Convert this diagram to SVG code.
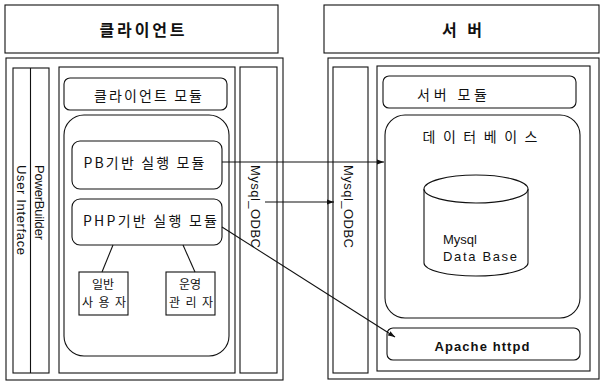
<svg xmlns="http://www.w3.org/2000/svg" width="601" height="383" viewBox="0 0 601 383">
<style>
.b{fill:#fff;stroke:#111;stroke-width:1.1}
.c{fill:none;stroke:#111;stroke-width:1.1}
.t{font-family:"Liberation Sans","Noto Sans CJK KR",sans-serif;font-size:13px;fill:#111}
.k{font-family:"Noto Sans CJK KR","Liberation Sans",sans-serif;font-size:14px;fill:#111;text-anchor:middle}
.s{font-size:12px}
.h{font-weight:bold;font-size:16px}
</style>
<defs>
<marker id="ah" markerUnits="userSpaceOnUse" markerWidth="8" markerHeight="6" refX="7" refY="3" orient="auto">
<path d="M0,0.5 L7,3 L0,5.5 Z" fill="#111"/>
</marker>
</defs>
<rect width="601" height="383" fill="#fff"/>

<g id="client-title"><rect class="b" x="5" y="5" width="273" height="48"/><text class="k h" x="142" y="36" textLength="85" lengthAdjust="spacing">클라이언트</text></g>
<g id="client-area"><rect class="b" x="6" y="58" width="277" height="322"/></g>
<g id="ui-column"><rect class="b" x="13" y="68" width="36" height="305"/><line class="c" x1="30.5" y1="68" x2="30.5" y2="373"/>
<text class="t" x="17" y="165" transform="rotate(90 17 165)" textLength="90" lengthAdjust="spacing">User Interface</text>
<text class="t" x="35" y="165" transform="rotate(90 35 165)" textLength="75" lengthAdjust="spacing">PowerBuilder</text></g>
<g id="client-main"><rect class="b" x="59" y="67" width="176" height="306"/></g>
<g id="client-module"><rect class="b" x="64" y="78" width="163" height="32" rx="6"/><text class="k" x="148" y="101" textLength="108" lengthAdjust="spacing">클라이언트 모듈</text></g>
<g id="client-exec"><rect class="b" x="64" y="115" width="165" height="241" rx="20"/></g>
<g id="pb-module"><rect class="b" x="72" y="141" width="150" height="48" rx="8"/><text class="k" x="144" y="168" textLength="121" lengthAdjust="spacing">PB기반 실행 모듈</text></g>
<g id="php-module"><rect class="b" x="72" y="199" width="150" height="46" rx="8"/><text class="k" x="150" y="226" textLength="134" lengthAdjust="spacing">PHP기반 실행 모듈</text></g>
<g id="user"><rect class="b" x="79" y="272" width="49" height="43"/><text class="k s" x="103" y="289">일반</text><text class="k s" x="104" y="307" textLength="44" lengthAdjust="spacing">사용자</text></g>
<g id="admin"><rect class="b" x="166" y="272" width="49" height="43"/><text class="k s" x="190" y="289">운영</text><text class="k s" x="191" y="307" textLength="44" lengthAdjust="spacing">관리자</text></g>
<g id="client-odbc"><rect class="b" x="240" y="67" width="37" height="306"/><text class="t" x="251" y="165" transform="rotate(90 251 165)" textLength="83" lengthAdjust="spacing">Mysql_ODBC</text></g>

<g id="server-title"><rect class="b" x="324" y="5" width="275" height="48"/><text class="k h" x="462" y="36" textLength="40" lengthAdjust="spacing">서 버</text></g>
<g id="server-area"><rect class="b" x="328" y="58" width="271" height="321"/></g>
<g id="server-odbc"><rect class="b" x="333" y="67" width="35" height="306"/><text class="t" x="344" y="165" transform="rotate(90 344 165)" textLength="83" lengthAdjust="spacing">Mysql_ODBC</text></g>
<g id="server-main"><rect class="b" x="377" y="66" width="213" height="305"/></g>
<g id="server-module"><rect class="b" x="383" y="76" width="193" height="32" rx="6"/><text class="k" x="452" y="100" textLength="70" lengthAdjust="spacing">서버 모듈</text></g>
<g id="database"><rect class="b" x="385" y="115" width="195" height="203" rx="20"/><text class="k" x="480" y="142" textLength="115" lengthAdjust="spacing">데 이 터 베 이 스</text></g>
<g id="mysql-db"><path class="b" d="M424,189 L424,263 A52,13 0 0 0 528,263 L528,189"/><ellipse class="b" cx="476" cy="189" rx="52" ry="14"/>
<text class="t" x="443" y="244">Mysql</text><text class="t" x="443" y="261" textLength="74" lengthAdjust="spacing">Data Base</text></g>
<g id="apache"><rect class="b" x="387" y="328" width="193" height="32" rx="6"/><text class="t" x="482" y="351" text-anchor="middle" font-weight="bold" font-size="14" textLength="95" lengthAdjust="spacing">Apache httpd</text></g>

<g id="connectors">
<line class="c" x1="222" y1="162" x2="384" y2="162" marker-end="url(#ah)"/>
<line class="c" x1="265" y1="202" x2="334" y2="202" marker-end="url(#ah)"/>
<line class="c" x1="222" y1="227" x2="395" y2="337" marker-end="url(#ah)"/>
<line class="c" x1="113" y1="245" x2="102" y2="272"/>
<line class="c" x1="183" y1="245" x2="195" y2="272"/>
</g>
</svg>
